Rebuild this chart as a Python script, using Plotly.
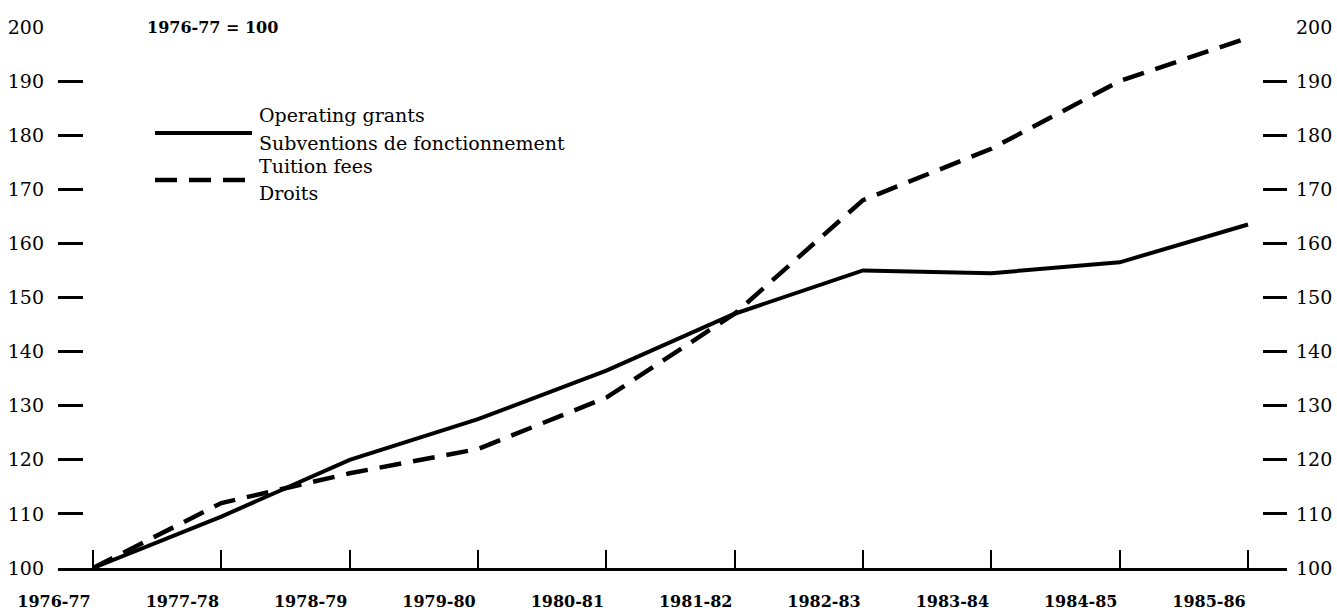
import plotly.graph_objects as go

years = ["1976-77", "1977-78", "1978-79", "1979-80", "1980-81",
         "1981-82", "1982-83", "1983-84", "1984-85", "1985-86"]
operating_grants = [100, 109.5, 120, 127.5, 136.5, 147, 155, 154.5, 156.5, 163.5]
tuition_fees = [100, 112, 117.5, 122, 131.5, 147, 168, 177.5, 190, 198]
y_ticks = [100, 110, 120, 130, 140, 150, 160, 170, 180, 190, 200]

W, H = 1337, 614
L, R, T, B = 58, 50, 27, 46
pw, ph = W - L - R, H - T - B

def px(xp):
    return (xp - L) / pw

def py(yp):
    return (H - B - yp) / ph

idx = list(range(len(years)))
SERIF = "DejaVu Serif"

fig = go.Figure()
fig.add_trace(go.Scatter(x=idx, y=operating_grants, mode="lines",
                         line=dict(color="black", width=4), showlegend=False,
                         hoverinfo="skip"))
fig.add_trace(go.Scatter(x=idx, y=tuition_fees, mode="lines", yaxis="y2",
                         line=dict(color="black", width=4.5, dash="22px,12px"),
                         showlegend=False, hoverinfo="skip"))

step = (1248 - 93) / 9
xr = [-(93 - L) / step, 9 + (1287 - 1248) / step]

fig.update_layout(
    width=W, height=H,
    margin=dict(l=L, r=R, t=T, b=B, autoexpand=False),
    paper_bgcolor="white", plot_bgcolor="white",
    font=dict(family=SERIF, color="black", size=19),
    xaxis=dict(range=xr, tickvals=idx, ticktext=years, showgrid=False,
               zeroline=False, showline=True, linecolor="black", linewidth=2.5,
               ticks="inside", ticklen=18, tickwidth=2, tickcolor="black",
               ticklabelposition="outside left", ticklabelstandoff=17,
               automargin=False,
               tickfont=dict(family=SERIF, size=16, weight="bold")),
    yaxis=dict(range=[100, 200], tickvals=y_ticks, showgrid=False,
               zeroline=False, showline=False, ticks="inside", ticklen=25,
               tickwidth=2.5, tickcolor="black", ticklabelstandoff=13,
               automargin=False, tickfont=dict(family=SERIF, size=19)),
    yaxis2=dict(range=[100, 200], tickvals=y_ticks, overlaying="y",
                side="right", showgrid=False, zeroline=False, showline=False,
                ticks="inside", ticklen=24, tickwidth=2.5, tickcolor="black",
                ticklabelstandoff=8, automargin=False,
                tickfont=dict(family=SERIF, size=19)),
    showlegend=False,
)

# legend samples
fig.add_shape(type="line", xref="paper", yref="paper",
              x0=px(155), x1=px(252), y0=py(133), y1=py(133),
              line=dict(color="black", width=4))
fig.add_shape(type="line", xref="paper", yref="paper",
              x0=px(155), x1=px(252), y0=py(180), y1=py(180),
              line=dict(color="black", width=4.5, dash="22px,12px"))

def note(text, xp, yp, bold=False, size=19):
    fig.add_annotation(text=text, xref="paper", yref="paper",
                       x=px(xp), y=py(yp), xanchor="left", yanchor="middle",
                       showarrow=False,
                       font=dict(family=SERIF, size=size,
                                 weight="bold" if bold else "normal"))

note("1976-77 = 100", 145, 27, bold=True, size=16)
note("Operating grants", 257, 115)
note("Subventions de fonctionnement", 257, 143)
note("Tuition fees", 257, 166)
note("Droits", 257, 193)

fig.write_html(
    "out.html",
    config={"displayModeBar": False},
    post_script="document.body.style.margin='0';document.body.style.overflow='hidden';",
)
